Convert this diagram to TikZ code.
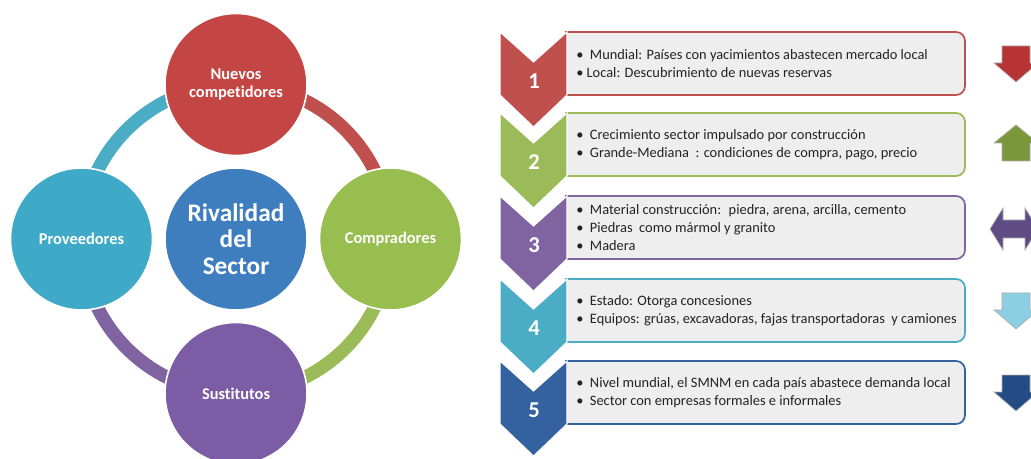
\documentclass[tikz,border=0pt]{standalone}
\usepackage{fontspec}
\setmainfont{Carlito}[Ligatures=NoCommon]
\definecolor{cRed}{RGB}{192,80,77}
\definecolor{cGreen}{RGB}{155,187,89}
\definecolor{cPurple}{RGB}{128,100,162}
\definecolor{cTeal}{RGB}{75,172,198}
\definecolor{cBlue}{RGB}{52,98,160}
\definecolor{cHub}{RGB}{62,126,190}
\definecolor{fRed}{RGB}{196,70,68}
\definecolor{fGreen}{RGB}{152,190,80}
\definecolor{fPurple}{RGB}{124,92,164}
\definecolor{fTeal}{RGB}{62,170,200}
\definecolor{panelFill}{RGB}{238,238,238}
\definecolor{textGray}{RGB}{35,35,35}
\definecolor{aRed}{RGB}{184,52,52}
\definecolor{aGreen}{RGB}{122,152,58}
\definecolor{aPurple}{RGB}{96,76,132}
\definecolor{aSky}{RGB}{140,206,226}
\definecolor{aNavy}{RGB}{36,76,132}
\pgfdeclarelayer{ring}
\pgfsetlayers{ring,main}
\begin{document}
\begin{tikzpicture}[x=0.75pt,y=-0.75pt,
  force/.style={circle, minimum size=106.5pt, inner sep=0pt, draw=white,
    line width=1.2pt, text=white, align=center,
    font=\bfseries\fontsize{12.3}{13.5}\selectfont},
  ringseg/.style={line width=10pt},
  chevshape/.style={draw=white, line width=0.8pt},
  panel/.style={fill=panelFill, line width=1.3pt},
  bul/.style={anchor=west, align=left, inner sep=0pt, text=textGray,
    font=\fontsize{10.8}{13.5}\selectfont},
  num/.style={text=white, inner sep=0pt, font=\bfseries\fontsize{17}{17}\selectfont},
  trend/.style={draw=gray!65, line width=0.5pt}]
\useasboundingbox (0,0) rectangle (1031,459);
\clip (0,0) rectangle (1031,459);

% ---- five forces around the hub ----
\node[force, fill=cHub, font=\bfseries\fontsize{19}{20}\selectfont] (hub) at (236,239) {Rivalidad\\del\\Sector};
\node[force, fill=fRed] (nuevos) at (236,84.5) {Nuevos\\competidores};
\node[force, fill=fGreen] (comp) at (390.5,239) {Compradores};
\node[force, fill=fPurple] (sust) at (236,393.5) {Sustitutos};
\node[force, fill=fTeal] (prov) at (81.5,239) {Proveedores};

% ring segments joining neighbouring forces, kept behind the circles
\begin{pgfonlayer}{ring}
\draw[ringseg, cTeal] (prov.center) arc[start angle=180, end angle=270, radius=154.5];
\draw[ringseg, cRed] (nuevos.center) arc[start angle=270, end angle=360, radius=154.5];
\draw[ringseg, cGreen] (comp.center) arc[start angle=0, end angle=90, radius=154.5];
\draw[ringseg, cPurple] (sust.center) arc[start angle=90, end angle=180, radius=154.5];
\end{pgfonlayer}

% ---- chevron list ----
\foreach \t/\c/\n in {32/cRed/1, 113/cGreen/2, 196/cPurple/3, 279/cTeal/4, 361/cBlue/5} {
  \draw[panel, draw=\c] (566,\t) -- (956,\t)
    arc[start angle=-90, end angle=0, radius=9] -- (965,\t+54)
    arc[start angle=0, end angle=90, radius=9] -- (566,\t+63) -- cycle;
  \filldraw[chevshape, fill=\c] (500,\t) -- (533.5,\t+30) -- (567,\t) -- (567,\t+63)
    -- (533.5,\t+95) -- (500,\t+63) -- cycle;
  \node[num] (num\n) at (534,\t+49) {\n};
}

\node[bul] (box1) at (576,63.5) {•\ \ Mundial: Países con yacimientos abastecen mercado local\\• Local: Descubrimiento de nuevas reservas};
\node[bul] (box2) at (576,144.5) {•\ \ Crecimiento sector impulsado por construcción\\•\ \ Grande-Mediana \ : condiciones de compra, pago, precio};
\node[bul] (box3) at (576,227.5) {•\ \ Material construcción: \ piedra, arena, arcilla, cemento\\•\ \ Piedras \ como mármol y granito\\•\ \ Madera};
\node[bul] (box4) at (576,310.5) {•\ \ Estado: Otorga concesiones\\•\ \ Equipos: grúas, excavadoras, fajas transportadoras \ y camiones};
\node[bul] (box5) at (576,392.5) {•\ \ Nivel mundial, el SMNM en cada país abastece demanda local\\•\ \ Sector con empresas formales e informales};

% ---- trend arrows ----
\filldraw[trend, fill=aRed] (1002,46) -- (1030,46) -- (1030,63) -- (1038,63) -- (1016,82)
  -- (994,63) -- (1002,63) -- cycle;
\filldraw[trend, fill=aGreen] (1016,125) -- (1038,143) -- (1030,143) -- (1030,161)
  -- (1002,161) -- (1002,143) -- (994,143) -- cycle;
\filldraw[trend, fill=aPurple] (990,229) -- (1003,208) -- (1003,220) -- (1025,220)
  -- (1025,208) -- (1038,229) -- (1025,250) -- (1025,238) -- (1003,238) -- (1003,250) -- cycle;
\filldraw[trend, fill=aSky] (1002,293) -- (1030,293) -- (1030,310) -- (1038,310) -- (1016,329)
  -- (994,310) -- (1002,310) -- cycle;
\filldraw[trend, fill=aNavy] (1002,375) -- (1030,375) -- (1030,392) -- (1038,392) -- (1016,411)
  -- (994,392) -- (1002,392) -- cycle;
\end{tikzpicture}
\end{document}
